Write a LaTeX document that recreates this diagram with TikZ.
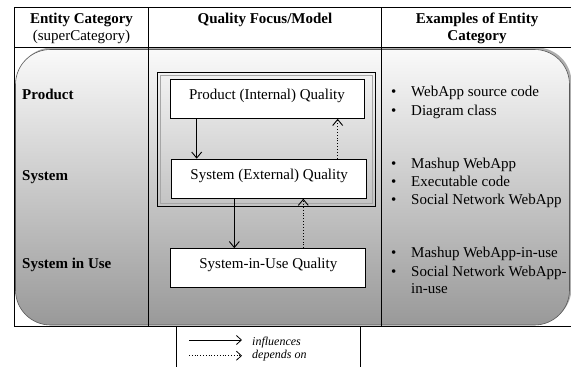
\documentclass[tikz,border=0pt]{standalone}
\usepackage{fontspec}
\setmainfont{Liberation Serif}
\usetikzlibrary{shadows,arrows.meta}
\begin{document}
\begin{tikzpicture}[x=1pt,y=-1pt,
  tline/.style={line width=0.9pt},
  qbox/.style={draw, line width=1pt, fill=white, minimum width=195pt, minimum height=39pt,
    inner sep=0pt, text height=6pt, text depth=5pt, font=\fontsize{15}{18}\selectfont},
  rowlabel/.style={anchor=base west, inner sep=0pt, font=\fontsize{15}{18}\selectfont\bfseries},
  head/.style={anchor=base, inner sep=0pt, font=\fontsize{15}{18}\selectfont\bfseries},
  subhead/.style={anchor=base, inner sep=0pt, font=\fontsize{15}{18}\selectfont},
  bul/.style={anchor=base, inner sep=0pt, font=\fontsize{15}{18}\selectfont},
  item/.style={anchor=base west, inner sep=0pt, font=\fontsize{15}{18}\selectfont},
  legtext/.style={anchor=base west, inner sep=0pt, font=\fontsize{12}{14}\selectfont\itshape},
  flow/.style={line width=0.9pt, -{Straight Barb[length=6pt,width=10pt]}},
  dep/.style={line width=0.9pt, dotted, -{Straight Barb[length=6pt,width=10pt]}},
  legflow/.style={line width=0.8pt, -{Straight Barb[length=5pt,width=9pt]}},
  legdep/.style={line width=0.8pt, dotted, -{Straight Barb[length=5pt,width=9pt]}}
]
\useasboundingbox (0,0) rectangle (571,367);
\fill[white] (0,0) rectangle (571,367);

% shaded rounded band
\path[rounded corners=35pt, top color=white!98!black, bottom color=black!40,
  draw=black!65, line width=0.6pt,
  drop shadow={shadow xshift=2pt, shadow yshift=2pt, fill=black!45, opacity=0.7}]
  (15.5,49.5) rectangle (569.5,325);

% table lines
\draw[tline] (14,7) -- (571,7);
\draw[tline] (14,47.3) -- (571,47.3);
\draw[tline] (14,326.7) -- (571,326.7);
\draw[tline] (14.5,7) -- (14.5,326.7);
\draw[tline] (148.3,7) -- (148.3,326.7);
\draw[tline] (381,7) -- (381,326.7);
% legend box
\draw[line width=0.8pt] (176.7,326.7) -- (176.7,367);
\draw[line width=0.8pt] (360,326.7) -- (360,367);

% headers
\node[head] (h1) at (81.5,23) {Entity Category};
\node[subhead] (h1b) at (81.5,40) {(superCategory)};
\node[head] (h2) at (265,23) {Quality Focus/Model};
\node[head] (h3) at (477,23) {Examples of Entity};
\node[head] (h3b) at (477,40) {Category};

% row labels
\node[rowlabel] (lp) at (22,99) {Product};
\node[rowlabel] (ls) at (22,180) {System};
\node[rowlabel] (lu) at (22,268) {System in Use};

% outer double box
\draw[line width=1pt] (157.7,72.3) rectangle (375,206.7);
\draw[line width=0.5pt, black!35] (160.7,75.3) rectangle (372,203.7);

% quality boxes
\node[qbox, minimum width=194pt] (prod) at (267,98.8) {Product (Internal) Quality};
\node[qbox] (sys) at (269.2,178.7) {System (External) Quality};
\node[qbox] (use) at (268.3,268.2) {System-in-Use Quality};

% connector x positions
\coordinate (c1) at (196.7,0);
\coordinate (c2) at (337.7,0);
\coordinate (c3) at (234.3,0);
\coordinate (c4) at (303.3,0);
\draw[flow] (prod.south -| c1) -- (sys.north -| c1);
\draw[dep] (sys.north -| c2) -- (prod.south -| c2);
\draw[flow] (sys.south -| c3) -- (use.north -| c3);
\draw[dep] (use.north -| c4) -- (sys.south -| c4);

% examples
\node[bul] (b1) at (393.7,96.7) {\textbullet};
\node[item] (e1) at (411,96.7) {WebApp source code};
\node[bul] (b2) at (393.7,115) {\textbullet};
\node[item] (e2) at (411,115) {Diagram class};
\node[bul] (b3) at (393.7,168.3) {\textbullet};
\node[item] (e3) at (411,168.3) {Mashup WebApp};
\node[bul] (b4) at (393.7,186) {\textbullet};
\node[item] (e4) at (411,186) {Executable code};
\node[bul] (b5) at (393.7,204.3) {\textbullet};
\node[item] (e5) at (411,204.3) {Social Network WebApp};
\node[bul] (b6) at (393.7,257.7) {\textbullet};
\node[item] (e6) at (411,257.7) {Mashup WebApp-in-use};
\node[bul] (b7) at (393.7,276) {\textbullet};
\node[item] (e7) at (411,276) {Social Network WebApp-};
\node[item] (e7b) at (411,293.3) {in-use};

% legend
\coordinate (l1a) at (189,340);
\coordinate (l1b) at (242,340);
\coordinate (l2a) at (189,355.7);
\coordinate (l2b) at (242,355.7);
\draw[legflow] (l1a) -- (l1b);
\draw[legdep] (l2a) -- (l2b);
\node[legtext] (t1) at (252,345) {influences};
\node[legtext] (t2) at (252,358.5) {depends on};
\end{tikzpicture}
\end{document}
